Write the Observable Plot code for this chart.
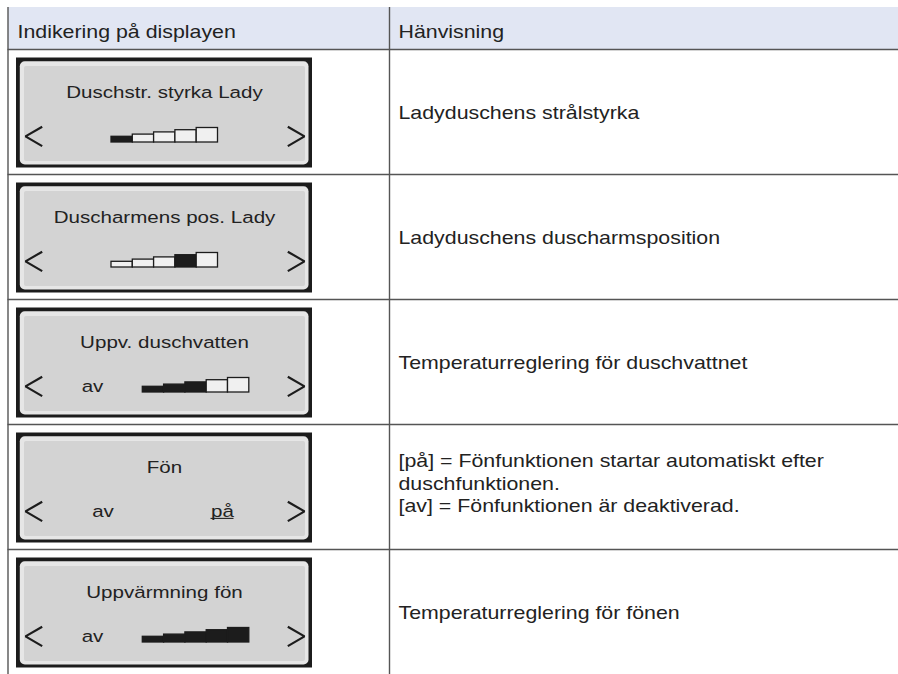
<!DOCTYPE html>
<html>
<head>
<meta charset="utf-8">
<script src="https://cdn.jsdelivr.net/npm/d3@7"></script>
<script src="https://cdn.jsdelivr.net/npm/@observablehq/plot@0.6"></script>
<style>
  html, body { margin: 0; padding: 0; background: #ffffff; }
  #chart { width: 898px; height: 674px; overflow: hidden; }
</style>
</head>
<body>
<div id="chart"></div>
<script>
// ---- Data ----
const headers = ["Indikering på displayen", "Hänvisning"];
const titles = [
  "Duschstr. styrka Lady",
  "Duscharmens pos. Lady",
  "Uppv. duschvatten",
  "Fön",
  "Uppvärmning fön"
];
const leftLabels = ["", "", "av", "av", "av"];
const rightLabels = ["", "", "", "på", ""];
const levels = [1, 2, 3, 4, 5];
const hasBars = [true, true, true, false, true];
const filledLevels = [[1], [4], [1, 2, 3], [], [1, 2, 3, 4, 5]];
const descriptions = [
  "Ladyduschens strålstyrka",
  "Ladyduschens duscharmsposition",
  "Temperaturreglering för duschvattnet",
  "[på] = Fönfunktionen startar automatiskt efter\nduschfunktionen.\n[av] = Fönfunktionen är deaktiverad.",
  "Temperaturreglering för fönen"
];

// ---- Layout ----
const W = 898, H = 674;
const L = {
  tableLeft: 7.5, tableTop: 7, headerBottom: 49, rowH: 125, colX: 389,
  headerTextX: 17, textX: 398, headerTextY: 32,
  panelX1: 16, panelX2: 312, panelOff: 8.5, panelH: 110,
  barW: 21.3, barX0: 111, barX0Label: 142.3, barBottom: 84.5,
  titleY: 34.6, lineY: 78.4,
  tableFont: 17.5, tableStretch: 1.22,
  panelFont: 17, panelStretch: 1.21
};
const ink = "#1c1c1c";
const textColor = "#222222";
const font = "'Liberation Sans', Arial, Helvetica, sans-serif";

const rows = titles.map((title, i) => {
  const top = L.headerBottom + i * L.rowH;
  return { i, title, top, pTop: top + L.panelOff, center: top + L.rowH / 2 };
});

const bars = rows.flatMap(r => {
  if (!hasBars[r.i]) return [];
  const x0 = leftLabels[r.i] ? L.barX0Label : L.barX0;
  const yb = r.pTop + L.barBottom;
  return levels.map((lv, k) => ({
    x1: x0 + k * L.barW,
    x2: x0 + (k + 1) * L.barW,
    y1: yb - (3.5 + 2.2 * lv),
    y2: yb,
    on: filledLevels[r.i].includes(lv)
  }));
});

const chevrons = rows.flatMap(r => {
  const cy = r.pTop + L.lineY;
  const a = 9.7;
  return [
    { id: r.i + "L", x: 41.7, y: cy - a }, { id: r.i + "L", x: 25, y: cy }, { id: r.i + "L", x: 41.7, y: cy + a },
    { id: r.i + "R", x: 287.3, y: cy - a }, { id: r.i + "R", x: 304, y: cy }, { id: r.i + "R", x: 287.3, y: cy + a }
  ];
});

const labels = rows.flatMap(r => {
  const out = [];
  const cy = r.pTop + L.lineY;
  if (leftLabels[r.i]) out.push({ x: hasBars[r.i] ? 92 : 102.5, y: cy, text: leftLabels[r.i], underline: false });
  if (rightLabels[r.i]) out.push({ x: 222, y: cy, text: rightLabels[r.i], underline: true });
  return out;
});

const hLines = [L.headerBottom, ...rows.slice(1).map(r => r.top)];

const chart = Plot.plot({
  width: W,
  height: H,
  margin: 0,
  x: { type: "linear", domain: [0, W], range: [0, W], axis: null },
  y: { type: "linear", domain: [0, H], range: [0, H], axis: null },
  style: { background: "#ffffff", fontFamily: font, fontSize: "17px", color: textColor },
  marks: [
    // header background
    Plot.rect([0], { x1: L.tableLeft + 0.5, x2: W, y1: L.tableTop, y2: L.headerBottom, fill: "#e1e6f3" }),
    // table grid
    Plot.ruleY(hLines, { y: d => d, x1: L.tableLeft, x2: W, stroke: "#555555", strokeWidth: 1.3 }),
    Plot.ruleX([L.tableLeft, L.colX], { x: d => d, y1: L.tableTop, y2: H, stroke: "#555555", strokeWidth: 1.4 }),
    // header texts
    Plot.text(headers, {
      x: (d, i) => (i === 0 ? L.headerTextX : L.textX), y: L.headerTextY, text: d => d,
      textAnchor: "start", lineAnchor: "middle", fontSize: L.tableFont, fill: textColor,
      className: "table-text"
    }),
    // display panels
    Plot.rect(rows, { x1: L.panelX1, x2: L.panelX2, y1: d => d.pTop, y2: d => d.pTop + L.panelH, fill: ink }),
    Plot.rect(rows, { x1: 19.8, x2: 308.5, y1: d => d.pTop + 3.8, y2: d => d.pTop + 107, fill: "#e6e6e6", rx: 5 }),
    Plot.rect(rows, { x1: 24, x2: 305, y1: d => d.pTop + 8.6, y2: d => d.pTop + 103.6, fill: "#d3d3d3", rx: 2 }),
    // panel titles
    Plot.text(rows, {
      x: (L.panelX1 + L.panelX2) / 2, y: d => d.pTop + L.titleY, text: "title",
      textAnchor: "middle", lineAnchor: "middle", fontSize: L.panelFont, fill: textColor,
      className: "panel-text"
    }),
    // chevrons
    Plot.line(chevrons, { x: "x", y: "y", z: "id", stroke: ink, strokeWidth: 2.2, strokeLinejoin: "miter", strokeLinecap: "butt" }),
    // level bars
    Plot.rect(bars, {
      x1: "x1", x2: "x2", y1: "y1", y2: "y2",
      fill: d => (d.on ? ink : "#f0f0f0"), stroke: ink, strokeWidth: 1.3
    }),
    // av / på labels
    Plot.text(labels, {
      x: "x", y: "y", text: "text", textAnchor: "middle", lineAnchor: "middle", fontSize: L.panelFont, fill: textColor,
      className: "panel-text"
    }),
    Plot.ruleY(labels.filter(d => d.underline), {
      y: d => d.y + 7, x1: d => d.x - 11.5, x2: d => d.x + 11.5, stroke: textColor, strokeWidth: 1.1
    }),
    // descriptions
    Plot.text(rows, {
      x: L.textX,
      y: d => d.center - (descriptions[d.i].includes("\n") ? 4.5 : 0),
      text: d => descriptions[d.i],
      textAnchor: "start", lineAnchor: "middle", lineHeight: 1.29, fontSize: L.tableFont, fill: textColor,
      className: "table-text"
    })
  ]
});

// the reference typography is horizontally wide; stretch each text around its anchor
function stretch(selector, k) {
  chart.querySelectorAll(selector + " text").forEach(t => {
    const tr = t.getAttribute("transform");
    if (tr) t.setAttribute("transform", tr + ` scale(${k},1)`);
  });
}
stretch(".table-text", L.tableStretch);
stretch(".panel-text", L.panelStretch);

document.getElementById("chart").appendChild(chart);
</script>
</body>
</html>
